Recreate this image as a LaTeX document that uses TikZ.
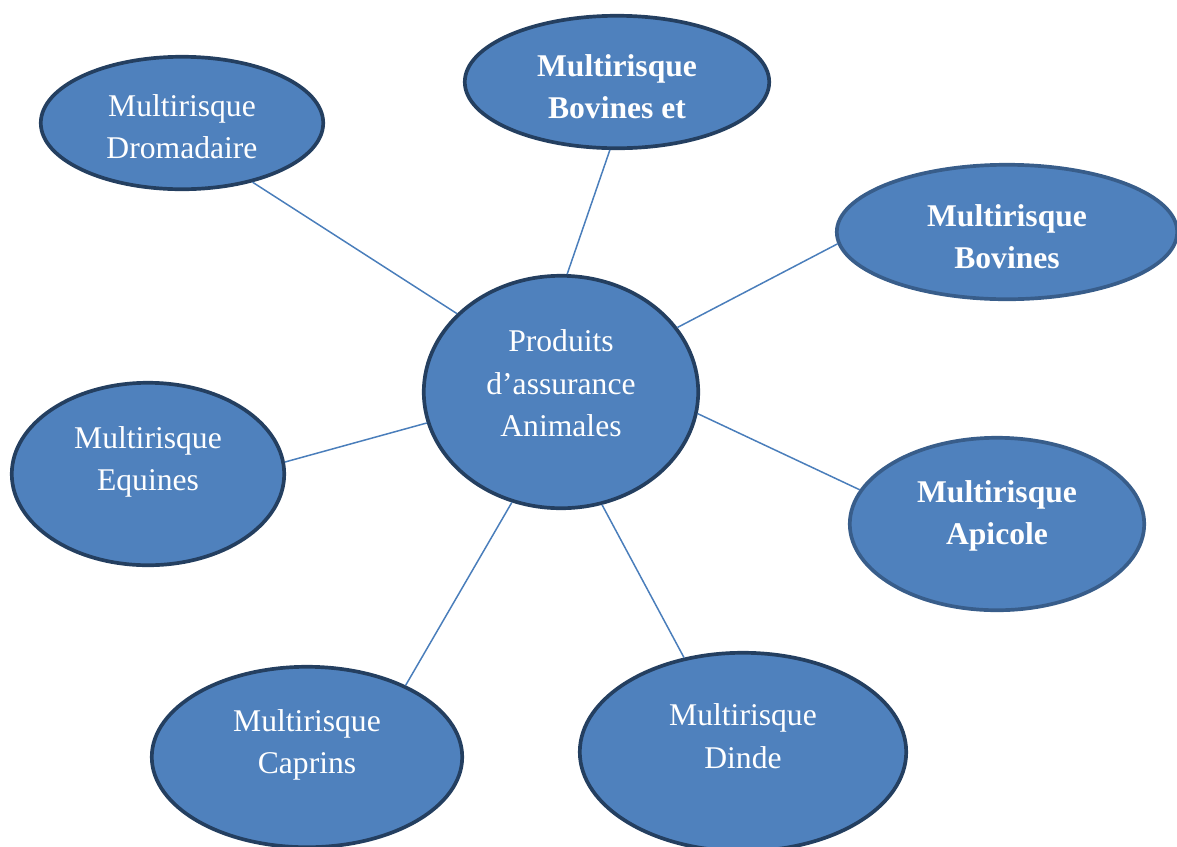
\documentclass[tikz,border=0pt]{standalone}
\usepackage{fontspec}
\setmainfont{Liberation Serif}
\usetikzlibrary{shapes.geometric}
\definecolor{bubblefill}{HTML}{4F81BD}
\definecolor{bubbledark}{HTML}{243F60}
\definecolor{bubbleline}{HTML}{385D8A}
\definecolor{linkblue}{HTML}{4A7EBB}

\begin{document}
\begin{tikzpicture}[x=0.02cm,y=-0.02cm]
  \useasboundingbox (0,0) rectangle (1177,846);
  \tikzset{txt/.style={draw=none, fill=none, text=white, align=center, font=\fontsize{18}{24}\selectfont},
           btxt/.style={txt, font=\fontsize{18}{24}\selectfont\bfseries}}
  \begin{scope}[every node/.style={ellipse, draw=bubbledark, line width=2.1pt, fill=bubblefill, inner sep=0pt}]
      \node[minimum width=5.49cm, minimum height=4.65cm,
            label={[txt,yshift=5pt]center:Produits\\d’assurance\\Animales}] (hub) at (561,392) {};

      \node[minimum width=5.65cm, minimum height=2.65cm,
            label={[txt,yshift=-2.3pt]center:Multirisque\\Dromadaire}] (drom) at (182,123) {};
      \node[minimum width=6.09cm, minimum height=2.65cm,
            label={[btxt,yshift=-2.8pt]center:Multirisque\\Bovines et}] (bovet) at (617,82) {};
      \node[draw=bubbleline, minimum width=6.81cm, minimum height=2.69cm,
            label={[btxt,yshift=-2.8pt]center:Multirisque\\Bovines}] (bov) at (1007,232) {};

      \node[minimum width=5.45cm, minimum height=3.65cm,
            label={[txt,yshift=6.8pt]center:Multirisque\\Equines}] (equ) at (148,474) {};
      \node[draw=bubbleline, minimum width=5.89cm, minimum height=3.45cm,
            label={[btxt,yshift=4.5pt]center:Multirisque\\Apicole}] (api) at (997,524) {};

      \node[minimum width=6.21cm, minimum height=3.61cm,
            label={[txt,yshift=6.8pt]center:Multirisque\\Caprins}] (cap) at (307,757) {};
      \node[minimum width=6.53cm, minimum height=3.97cm,
            label={[txt,yshift=9pt]center:Multirisque\\Dinde}] (dinde) at (743,752) {};
  \end{scope}

  \tikzset{link/.style={-, linkblue, line width=0.85pt}}

  \draw[link] (hub.143) -- (drom.-40);
  \draw[link] (hub.87) -- (bovet.-96);
  \draw[link] (hub.29) -- (bov.184);

  \draw[link] (hub.193) -- (equ.5);
  \draw[link] (hub.-9) -- (api.166);

  \draw[link] (hub.-114) -- (cap.36);
  \draw[link] (hub.-70) -- (dinde.122);

\end{tikzpicture}
\end{document}
